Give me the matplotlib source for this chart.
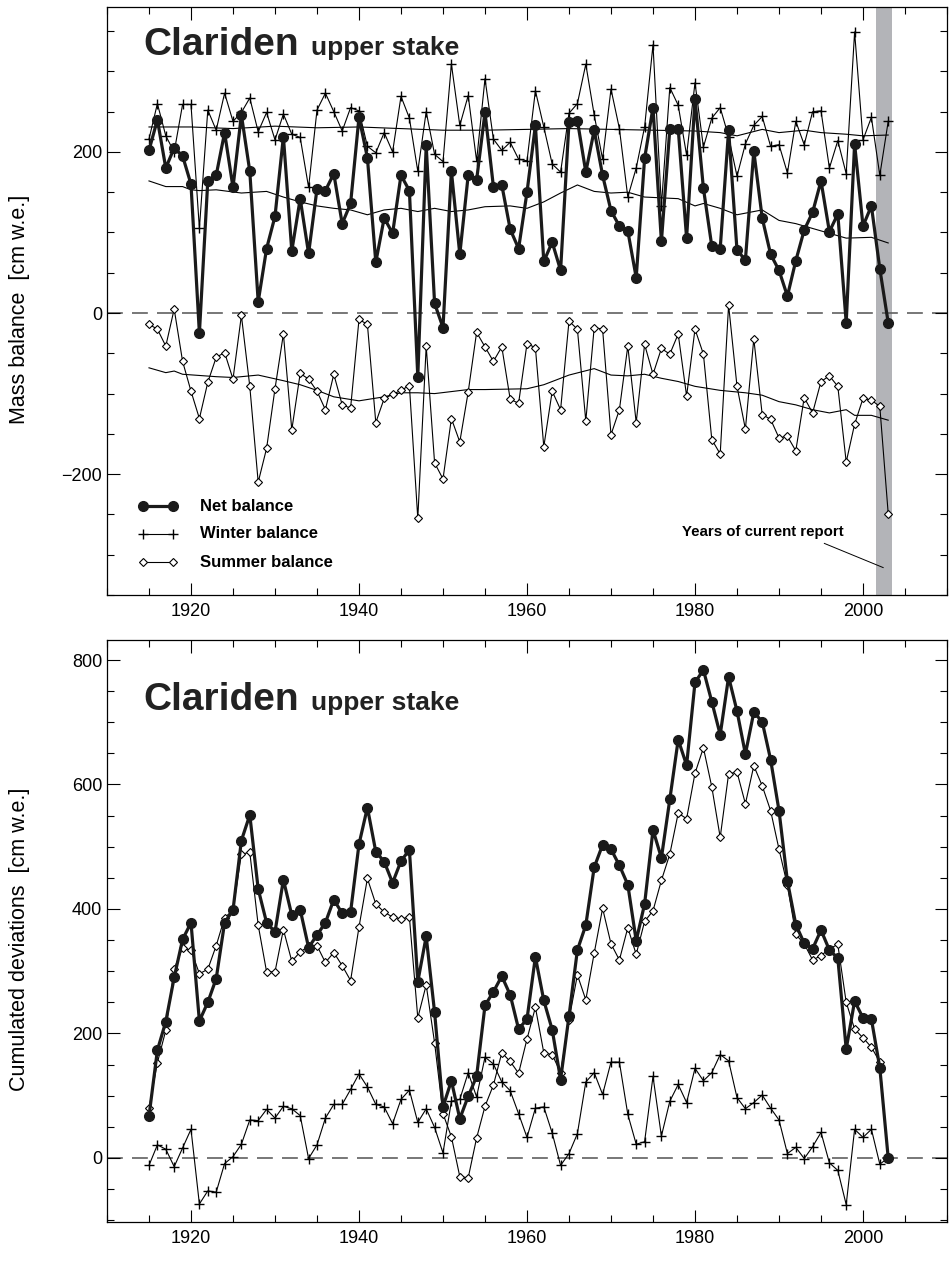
import numpy as np
import matplotlib
matplotlib.use("Agg")
import matplotlib.pyplot as plt
from matplotlib.ticker import MultipleLocator

plt.rcParams['font.family'] = ['Liberation Sans', 'DejaVu Sans']

years = list(range(1915, 2004))

net_balance = [202, 240, 180, 205, 195, 160, -25, 164, 171, 224, 156, 246, 176, 14, 80, 120,
               219, 77, 142, 74, 154, 152, 173, 111, 136, 243, 193, 63, 118, 99, 171, 152,
               -79, 208, 12, -18, 176, 73, 171, 165, 249, 157, 159, 104, 80, 150, 233, 64,
               88, 53, 237, 239, 175, 227, 171, 127, 108, 102, 44, 192, 255, 89, 228, 229,
               93, 266, 155, 83, 80, 227, 78, 66, 201, 118, 73, 53, 21, 65, 103, 125,
               164, 101, 123, -12, 210, 108, 133, 55, -12]

winter_balance = [216, 260, 220, 200, 259, 259, 105, 252, 227, 273, 238, 249, 267, 225, 249, 215,
                  247, 222, 218, 156, 252, 273, 250, 226, 255, 251, 207, 199, 224, 200, 269, 242,
                  176, 250, 197, 188, 309, 233, 270, 189, 291, 216, 202, 212, 191, 189, 276, 231,
                  185, 175, 248, 260, 309, 246, 191, 278, 229, 144, 180, 231, 333, 133, 280, 258,
                  196, 286, 206, 242, 255, 219, 170, 210, 233, 244, 207, 209, 174, 238, 209, 250,
                  251, 180, 214, 173, 349, 215, 243, 171, 238]

summer_balance = [-14, -20, -41, 5, -60, -97, -131, -86, -55, -49, -82, -3, -91, -210, -168, -94,
                  -26, -145, -75, -82, -97, -120, -76, -114, -118, -8, -14, -136, -106, -101, -96, -90,
                  -255, -41, -186, -206, -131, -160, -98, -24, -42, -60, -42, -107, -112, -38, -43, -166,
                  -97, -120, -10, -20, -134, -18, -20, -151, -120, -41, -136, -39, -76, -44, -51, -26,
                  -103, -20, -51, -157, -175, 10, -91, -144, -32, -126, -132, -155, -153, -171, -105, -124,
                  -85, -78, -91, -185, -138, -106, -108, -116, -249]

# smoothed curves (read at selected years)
wsm_years = [1915, 1920, 1925, 1930, 1935, 1940, 1945, 1950, 1955, 1960, 1965, 1970, 1975, 1980,
             1983, 1985, 1988, 1990, 1993, 1995, 1998, 2000, 2003]
wsm_vals = [231, 231, 229, 232, 230, 231, 229, 227, 227, 228, 229, 228, 227, 226,
            224, 220, 228, 224, 227, 224, 222, 220, 221]

nsm_years = [1915, 1917, 1919, 1920, 1921, 1923, 1926, 1929, 1931, 1933, 1935, 1937, 1939, 1941,
             1943, 1945, 1947, 1949, 1951, 1953, 1955, 1958, 1960, 1962, 1964, 1966, 1968, 1970,
             1972, 1974, 1976, 1978, 1980, 1981, 1983, 1985, 1988, 1990, 1992, 1994, 1996, 1998,
             2001, 2003]
nsm_vals = [164, 157, 157, 153, 152, 153, 149, 151, 144, 138, 133, 130, 128, 122,
            128, 130, 126, 130, 126, 128, 132, 133, 130, 138, 149, 159, 151, 149,
            150, 144, 143, 142, 133, 136, 130, 122, 128, 115, 111, 105, 99, 93,
            94, 87]

ssm_years = [1915, 1917, 1918, 1919, 1923, 1925, 1928, 1931, 1933, 1935, 1937, 1940, 1943, 1945,
             1947, 1949, 1953, 1955, 1960, 1962, 1965, 1968, 1970, 1972, 1974, 1976, 1978, 1980,
             1983, 1986, 1988, 1990, 1992, 1994, 1996, 1998, 1999, 2001, 2003]
ssm_vals = [-68, -74, -72, -76, -79, -80, -77, -84, -89, -96, -104, -109, -104, -99,
            -99, -100, -95, -95, -94, -89, -77, -69, -77, -78, -76, -81, -85, -91,
            -96, -99, -102, -110, -114, -120, -124, -120, -127, -127, -133]

# cumulated deviations
cum_net = [67, 173, 219, 290, 351, 378, 220, 250, 288, 378, 398, 510, 551, 432, 378, 363,
           447, 390, 399, 338, 358, 378, 415, 393, 395, 504, 563, 492, 476, 442, 477, 495,
           283, 356, 234, 82, 124, 63, 99, 131, 245, 267, 292, 262, 207, 223, 323, 253,
           206, 126, 228, 334, 374, 467, 503, 496, 470, 439, 349, 408, 527, 482, 576, 672,
           631, 764, 784, 733, 680, 773, 718, 649, 716, 701, 640, 558, 445, 375, 345, 336,
           366, 334, 321, 175, 252, 225, 223, 145, 0]

cum_winter = [-12, 21, 14, -14, 16, 46, -74, -53, -55, -9, 2, 22, 61, 60, 78, 64,
              83, 79, 68, -1, 21, 64, 86, 86, 110, 135, 114, 86, 82, 55, 94, 109,
              57, 79, 49, 8, 91, 94, 137, 98, 162, 151, 122, 108, 71, 33, 80, 82,
              40, -12, 7, 39, 122, 137, 102, 154, 154, 70, 22, 26, 131, 35, 91, 118,
              89, 144, 124, 137, 166, 156, 97, 79, 89, 101, 80, 61, 7, 17, -1, 18,
              41, -8, -20, -75, 46, 33, 46, -10, 0]

cum_summer = [80, 153, 205, 304, 337, 334, 296, 303, 341, 386, 398, 488, 491, 374, 299, 299,
              367, 316, 331, 340, 341, 314, 330, 309, 285, 371, 449, 408, 395, 387, 384, 387,
              225, 278, 185, 71, 34, -30, -32, 32, 83, 117, 169, 155, 136, 191, 242, 169,
              166, 137, 222, 294, 254, 329, 401, 344, 318, 370, 327, 380, 397, 446, 488, 554,
              545, 618, 659, 596, 515, 617, 620, 569, 630, 598, 558, 496, 438, 359, 344, 318,
              325, 336, 343, 250, 207, 193, 178, 154, 0]

report_years = [2001.5, 2003.5]

fig = plt.figure(figsize=(9.51, 12.64), dpi=100)
ax1 = fig.add_axes([0.1125, 0.5293, 0.8833, 0.4652])
ax2 = fig.add_axes([0.1125, 0.0332, 0.8833, 0.4604])

thin = dict(color='black', lw=0.8)
NET = dict(color='#1a1a1a', lw=2.3, marker='o', ms=7)
WIN = dict(color='black', lw=0.8, marker='+', ms=7, mew=1.0)
SUM = dict(color='black', lw=0.8, marker='D', ms=4.5, mfc='white', mec='black', mew=0.8)
DASH = dict(color='#606060', lw=1.2, ls=(0, (9.5, 5.5)))

def style_axis(ax, ymajor, yminor):
    ax.set_xlim(1910, 2010)
    ax.xaxis.set_major_locator(MultipleLocator(20))
    ax.xaxis.set_minor_locator(MultipleLocator(5))
    ax.yaxis.set_major_locator(MultipleLocator(ymajor))
    ax.yaxis.set_minor_locator(MultipleLocator(yminor))
    ax.tick_params(which='both', direction='in', top=True, right=True, labelsize=13, width=0.8)
    ax.tick_params(which='major', length=9)
    ax.tick_params(which='minor', length=5)
    ax.tick_params(axis='x', pad=6)
    for s in ax.spines.values():
        s.set_linewidth(0.9)

# ---- top panel
ax1.axvspan(report_years[0], report_years[1], color='#b3b4b8', lw=0, zorder=0)
ax1.axhline(0, zorder=1, **DASH)
ax1.plot(wsm_years, wsm_vals, **thin, zorder=2)
ax1.plot(nsm_years, nsm_vals, **thin, zorder=2)
ax1.plot(ssm_years, ssm_vals, **thin, zorder=2)
ax1.plot(years, summer_balance, zorder=3, **SUM)
ax1.plot(years, winter_balance, zorder=4, **WIN)
ax1.plot(years, net_balance, zorder=5, **NET)
ax1.set_ylim(-350, 380)
style_axis(ax1, 200, 50)
ax1.set_ylabel('Mass balance  [cm w.e.]', fontsize=15.5)
ax1.yaxis.set_label_coords(-0.092, 0.485)
ax1.text(0.043, 0.935, 'Clariden', transform=ax1.transAxes, fontsize=28,
         fontweight='bold', va='center', ha='left', color='#222222')
ax1.text(0.243, 0.93, 'upper stake', transform=ax1.transAxes, fontsize=19,
         fontweight='bold', va='center', ha='left', color='#222222')

# legend
leg_y = [0.151, 0.104, 0.056]
ax1.plot([0.043, 0.079], [leg_y[0]] * 2, transform=ax1.transAxes, **NET)
ax1.plot([0.043, 0.079], [leg_y[1]] * 2, transform=ax1.transAxes, **WIN)
ax1.plot([0.043, 0.079], [leg_y[2]] * 2, transform=ax1.transAxes, **SUM)
for yy, lab in zip(leg_y, ['Net balance', 'Winter balance', 'Summer balance']):
    ax1.text(0.111, yy, lab, transform=ax1.transAxes, fontsize=12,
             fontweight='bold', va='center', ha='left')
ax1.text(0.877, 0.107, 'Years of current report', transform=ax1.transAxes, fontsize=10.8,
         fontweight='bold', va='center', ha='right')
ax1.plot([1995.4, 2002.4], [-286, -316], color='black', lw=0.7, zorder=6)

# ---- bottom panel
ax2.axhline(0, zorder=1, **DASH)
ax2.plot(years, cum_winter, zorder=3, **WIN)
ax2.plot(years, cum_summer, zorder=4, **SUM)
ax2.plot(years, cum_net, zorder=5, **NET)
ax2.set_ylim(-103, 832)
style_axis(ax2, 200, 50)
ax2.set_ylabel('Cumulated deviations  [cm w.e.]', fontsize=15.5)
ax2.yaxis.set_label_coords(-0.092, 0.485)
ax2.text(0.043, 0.897, 'Clariden', transform=ax2.transAxes, fontsize=28,
         fontweight='bold', va='center', ha='left', color='#222222')
ax2.text(0.243, 0.892, 'upper stake', transform=ax2.transAxes, fontsize=19,
         fontweight='bold', va='center', ha='left', color='#222222')

fig.savefig('out.png', dpi=100)
